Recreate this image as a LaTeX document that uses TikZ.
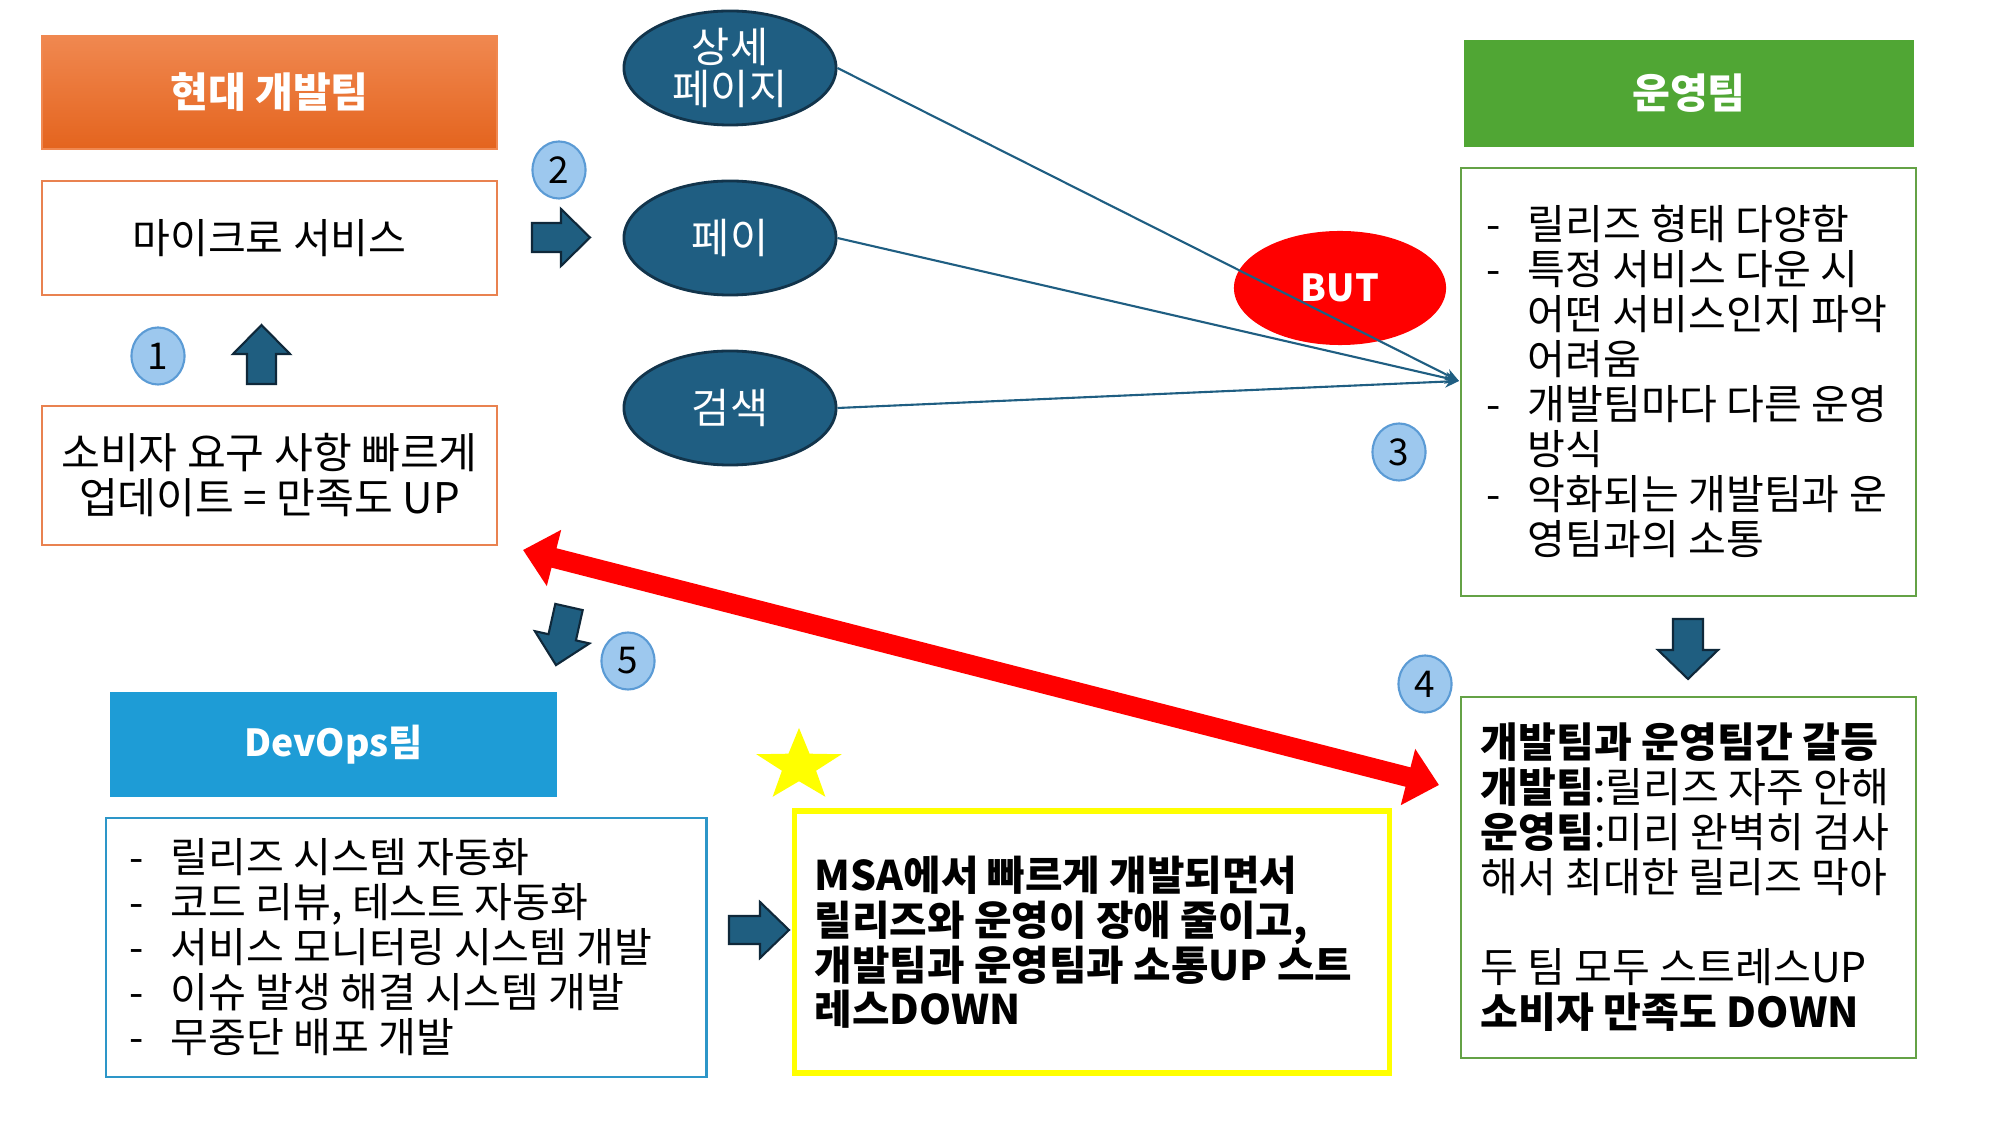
\documentclass[tikz,border=0pt]{standalone}
\usepackage{fontspec}
\setmainfont{Noto Sans CJK KR}
\usetikzlibrary{shapes.geometric,arrows.meta}
\definecolor{ellfill}{RGB}{31,94,130}
\definecolor{ellline}{RGB}{18,52,75}
\definecolor{arrowfill}{RGB}{31,94,128}
\definecolor{arrowline}{RGB}{15,40,58}
\definecolor{linkcol}{RGB}{31,94,130}
\definecolor{numfill}{RGB}{157,200,238}
\definecolor{numline}{RGB}{91,155,213}
\definecolor{ortop}{RGB}{240,136,80}
\definecolor{orbot}{RGB}{228,100,30}
\definecolor{orangeline}{RGB}{233,130,80}
\definecolor{greenhdr}{RGB}{80,166,52}
\definecolor{greenline}{RGB}{100,162,70}
\definecolor{devhdr}{RGB}{30,156,214}
\definecolor{devline}{RGB}{45,150,200}
\definecolor{yellowc}{RGB}{255,255,0}
\newcommand\lstitem{\makebox[0.41cm][l]{-}}
\newcommand\lstind{\hspace*{0.41cm}}
\begin{document}
\begin{tikzpicture}[x=0.01cm,y=-0.01cm,
  box/.style={draw, line width=0.75pt, fill=white, inner sep=0pt},
  hdrtext/.style={text=white, font=\fontsize{11.7}{13}\selectfont\bfseries},
  ell/.style={ellipse, draw=ellline, line width=0.8pt, fill=ellfill, minimum width=2.12cm, minimum height=1.14cm, inner sep=0pt, text=white, align=center, font=\fontsize{11.8}{12.2}\selectfont},
  num/.style={ellipse, draw=numline, line width=0.6pt, fill=numfill, minimum width=0.53cm, minimum height=0.57cm, inner sep=0pt, font=\fontsize{10.5}{12}\selectfont},
  blk/.style={fill=arrowfill, draw=arrowline, line width=0.6pt, line join=miter},
  link/.style={draw=linkcol, line width=0.6pt, -{Stealth[length=0.14cm, width=0.12cm]}},
  listtext/.style={anchor=west, inner sep=0pt, align=left, font=\fontsize{11.7}{12.8}\selectfont},
  redarrow/.style={draw=red, line width=0.2cm, {Triangle[length=0.32cm,width=0.56cm]}-{Triangle[length=0.32cm,width=0.56cm]}}
]
\useasboundingbox (0,0) rectangle (2000,1125);
\fill[white] (0,0) rectangle (2000,1125);

% left column
\node[box, draw=ortop, minimum width=4.55cm, minimum height=1.13cm, top color=ortop, bottom color=orbot, hdrtext] (h1) at (269.5,92.5) {현대 개발팀};
\node[box, draw=orangeline, minimum width=4.55cm, minimum height=1.14cm, font=\fontsize{11.7}{12.8}\selectfont] (b1) at (269.5,238) {마이크로 서비스};
\node[box, draw=orangeline, minimum width=4.55cm, minimum height=1.39cm, align=center, font=\fontsize{12}{12.8}\selectfont] (b2) at (269.5,475.5) {소비자 요구 사항 빠르게\\업데이트 = 만족도 UP};

% ellipses
\node[ell] (e1) at (730,68) {상세\\페이지};
\node[ell] (e2) at (730,238) {페이};
\node[ell] (e3) at (730,408) {검색};
\node[ellipse, fill=red, minimum width=2.12cm, minimum height=1.14cm, inner sep=0pt, text=white, font=\fontsize{10.6}{12}\selectfont\bfseries] (but) at (1340,288) {BUT};

% right column
\node[box, draw=none, fill=greenhdr, minimum width=4.50cm, minimum height=1.07cm, hdrtext] (h2) at (1689,93.5) {운영팀};
\node[box, draw=greenline, minimum width=4.55cm, minimum height=4.28cm] (g1) at (1688.5,382) {};
\node[listtext] (g1t) at (1486,381) {\lstitem 릴리즈 형태 다양함\\\lstitem 특정 서비스 다운 시\\\lstind 어떤 서비스인지 파악\\\lstind 어려움\\\lstitem 개발팀마다 다른 운영\\\lstind 방식\\\lstitem 악화되는 개발팀과 운\\\lstind 영팀과의 소통};
\node[box, draw=greenline, minimum width=4.55cm, minimum height=3.61cm] (g2) at (1688.5,877.5) {};
\node[listtext] (g2t) at (1480,877) {\textbf{개발팀과 운영팀간 갈등}\\\textbf{개발팀}:릴리즈 자주 안해\\\textbf{운영팀}:미리 완벽히 검사\\해서 최대한 릴리즈 막아\\[0.45cm]두 팀 모두 스트레스UP\\\textbf{소비자 만족도 DOWN}};

% bottom
\node[box, draw=none, fill=devhdr, minimum width=4.47cm, minimum height=1.05cm, text=white, font=\fontsize{10.6}{12}\selectfont\bfseries] (h3) at (333.5,744.5) {DevOps팀};
\node[box, draw=devline, minimum width=6.00cm, minimum height=2.59cm] (d1) at (406,947.5) {};
\node[listtext] (d1t) at (129,947) {\lstitem 릴리즈 시스템 자동화\\\lstitem 코드 리뷰, 테스트 자동화\\\lstitem 서비스 모니터링 시스템 개발\\\lstitem 이슈 발생 해결 시스템 개발\\\lstitem 무중단 배포 개발};
\node[box, draw=yellowc, line width=1.5pt, minimum width=5.94cm, minimum height=2.62cm] (y1) at (1092,942) {};
\node[listtext, font=\fontsize{11.6}{12.7}\selectfont\bfseries] (y1t) at (814,942.5) {MSA에서 빠르게 개발되면서\\릴리즈와 운영이 장애 줄이고,\\개발팀과 운영팀과 소통UP 스트\\레스DOWN};
\node[star, star points=5, star point ratio=2.5, fill=yellowc, minimum size=0.76cm, inner sep=0pt, xscale=1.18] (st) at (799,766) {};

% connectors to the ops box
\coordinate (conv) at (1459,381);
\draw[link] (e1.east) -- (conv);
\draw[link] (e2.east) -- (conv);
\draw[link] (e3.east) -- (conv);

% red double arrow
\coordinate (rl) at (523,550);
\coordinate (rr) at (1439,785);
\draw[redarrow] (rl) -- (rr);

% block arrows
\filldraw[blk] (532,223) -- (561,223) -- (561,209) -- (590,237.5) -- (561,266) -- (561,252) -- (532,252) -- cycle;
\filldraw[blk] (247,384) -- (247,354) -- (233,354) -- (261.5,325) -- (290,354) -- (276,354) -- (276,384) -- cycle;
\filldraw[blk] (1673,619) -- (1703,619) -- (1703,650) -- (1718,650) -- (1688,679) -- (1658,650) -- (1673,650) -- cycle;
\filldraw[blk] (729,916) -- (760,916) -- (760,902) -- (789,930) -- (760,958) -- (760,944) -- (729,944) -- cycle;
\filldraw[blk] (582.7,610.1) -- (575.9,640.4) -- (589.5,643.4) -- (556,665.1) -- (534.9,631.2) -- (548.5,634.2) -- (555.3,603.9) -- cycle;

% step numbers
\node[num] (n1) at (158,356) {1};
\node[num] (n2) at (559,170) {2};
\node[num] (n3) at (1399,452) {3};
\node[num] (n4) at (1425,684) {4};
\node[num] (n5) at (628,661) {5};
\end{tikzpicture}
\end{document}
